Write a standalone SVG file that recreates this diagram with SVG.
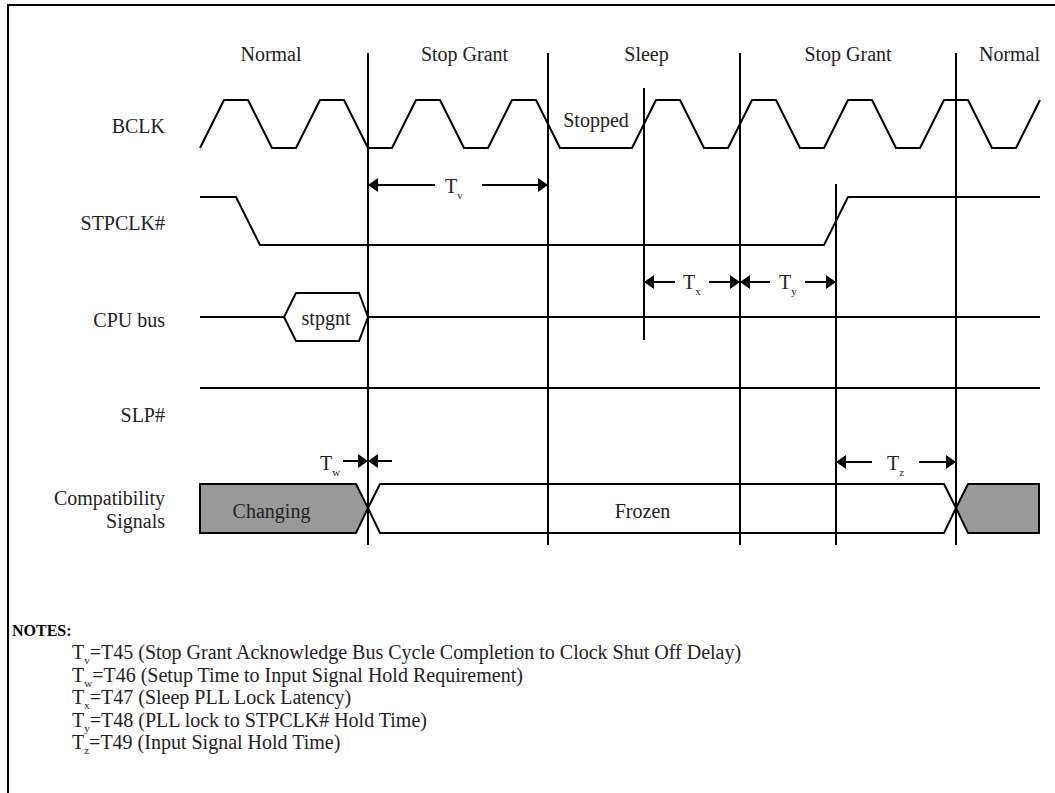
<svg xmlns="http://www.w3.org/2000/svg" width="1055" height="793" viewBox="0 0 1055 793">
<style>
text{font-family:"Liberation Serif","Times New Roman",serif;font-size:20px;fill:#222}
.sig{fill:none;stroke:#000;stroke-width:2;stroke-linejoin:miter}
.vl{stroke:#000;stroke-width:2}
.ar{stroke:#000;stroke-width:2;marker-end:url(#ah)}
.sub{font-size:11px}
.lbl{text-anchor:end}
.mid{text-anchor:middle}
.note{font-size:20px}
.gray{fill:#999;stroke:#000;stroke-width:2}
</style>
<defs>
<marker id="ah" viewBox="0 0 10 14" refX="10" refY="7" markerWidth="10" markerHeight="14" markerUnits="userSpaceOnUse" orient="auto">
<path d="M0,0 L10,7 L0,14 Z" fill="#000"/>
</marker>
</defs>
<rect width="1055" height="793" fill="#fff"/>
<path d="M8,800 V5 H1060" fill="none" stroke="#000" stroke-width="2"/>

<g id="phases">
<text x="271" y="61" class="mid">Normal</text>
<text x="464.5" y="61" class="mid">Stop Grant</text>
<text x="646.5" y="61" class="mid">Sleep</text>
<text x="848" y="61" class="mid">Stop Grant</text>
<text x="1009.5" y="61" class="mid">Normal</text>
</g>

<g id="bclk">
<text x="165" y="133" class="lbl">BCLK</text>
<path class="sig" d="M200,148 L224,100 L248,100 L272,148 L296,148 L320,100 L344,100 L368,148 L392,148 L416,100 L440,100 L464,148 L488,148 L512,100 L536,100 L560,148 L632,148 L656,100 L680,100 L704,148 L728,148 L752,100 L776,100 L800,148 L824,148 L848,100 L872,100 L896,148 L920,148 L944,100 L968,100 L992,148 L1016,148 L1040,100"/>
<text x="596" y="127" class="mid">Stopped</text>
</g>

<g id="stpclk">
<text x="165" y="230" class="lbl">STPCLK#</text>
<path class="sig" d="M200,197 L236,197 L260,245 L824,245 L848,197 L1040,197"/>
</g>

<g id="cpubus">
<text x="165" y="327" class="lbl">CPU bus</text>
<path class="sig" d="M200,317 L284,317 M368,317 L1040,317"/>
<polygon class="sig" points="284,317 296,293 359,293 368,317 359,341 296,341"/>
<text x="326" y="325" class="mid">stpgnt</text>
</g>

<g id="slp">
<text x="165" y="422" class="lbl">SLP#</text>
<path class="sig" d="M200,388 L1040,388"/>
</g>

<g id="compat">
<text x="165" y="505" class="lbl">Compatibility</text>
<text x="165" y="528" class="lbl">Signals</text>
<polygon class="gray" points="200,484 356,484 368,508 356,533 200,533"/>
<polygon class="sig" points="368,508 380,484 944,484 956,508 944,533 380,533"/>
<polygon class="gray" points="956,508 968,484 1039,484 1039,533 968,533"/>
<text x="271.5" y="518" class="mid">Changing</text>
<text x="642.5" y="518" class="mid">Frozen</text>
</g>

<g id="connectors">
<line class="vl" x1="368" y1="53" x2="368" y2="545"/>
<line class="vl" x1="548" y1="53" x2="548" y2="545"/>
<line class="vl" x1="644" y1="88" x2="644" y2="340"/>
<line class="vl" x1="740" y1="53" x2="740" y2="545"/>
<line class="vl" x1="836" y1="184" x2="836" y2="545"/>
<line class="vl" x1="956" y1="53" x2="956" y2="545"/>
<line class="ar" x1="435" y1="185" x2="368" y2="185"/>
<line class="ar" x1="482" y1="185" x2="548" y2="185"/>
<line class="ar" x1="675" y1="282" x2="644" y2="282"/>
<line class="ar" x1="709" y1="282" x2="740" y2="282"/>
<line class="ar" x1="770" y1="282" x2="740" y2="282"/>
<line class="ar" x1="805" y1="282" x2="836" y2="282"/>
<line class="ar" x1="343" y1="461" x2="368" y2="461"/>
<line class="ar" x1="392" y1="461" x2="368" y2="461"/>
<line class="ar" x1="872" y1="462" x2="836" y2="462"/>
<line class="ar" x1="919" y1="462" x2="956" y2="462"/>
</g>

<g id="timing-labels">
<text x="445" y="193">T<tspan class="sub" dy="6">v</tspan></text>
<text x="683" y="289">T<tspan class="sub" dy="6">x</tspan></text>
<text x="779" y="289">T<tspan class="sub" dy="6">y</tspan></text>
<text x="320" y="470">T<tspan class="sub" dy="6">w</tspan></text>
<text x="887" y="470">T<tspan class="sub" dy="6">z</tspan></text>
</g>

<g id="notes">
<text x="12" y="636" style="font-weight:bold;font-size:16px;fill:#000">NOTES:</text>
<text x="72" y="659" class="note">T<tspan class="sub" dy="5">v</tspan><tspan dy="-5">=T45 (Stop Grant Acknowledge Bus Cycle Completion to Clock Shut Off Delay)</tspan></text>
<text x="72" y="681.5" class="note">T<tspan class="sub" dy="5">w</tspan><tspan dy="-5">=T46 (Setup Time to Input Signal Hold Requirement)</tspan></text>
<text x="72" y="704" class="note">T<tspan class="sub" dy="5">x</tspan><tspan dy="-5">=T47 (Sleep PLL Lock Latency)</tspan></text>
<text x="72" y="726.5" class="note">T<tspan class="sub" dy="5">y</tspan><tspan dy="-5">=T48 (PLL lock to STPCLK# Hold Time)</tspan></text>
<text x="72" y="749" class="note">T<tspan class="sub" dy="5">z</tspan><tspan dy="-5">=T49 (Input Signal Hold Time)</tspan></text>
</g>
</svg>
